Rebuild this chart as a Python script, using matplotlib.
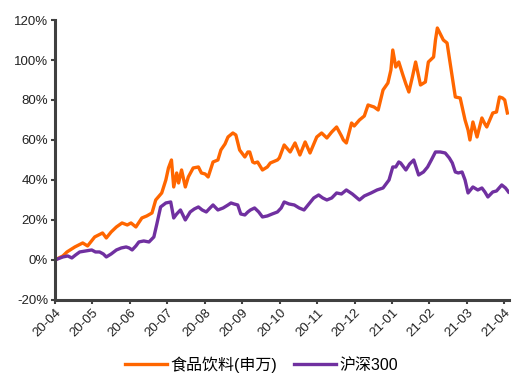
import matplotlib.pyplot as plt

plt.rcParams['font.family'] = ['Liberation Sans', 'Noto Sans CJK SC', 'DejaVu Sans']

# month ticks along the x axis (equal spacing, one per month)
month_labels = ['20-04', '20-05', '20-06', '20-07', '20-08', '20-09', '20-10',
                '20-11', '20-12', '21-01', '21-02', '21-03', '21-04']

# cumulative return (%), x in months since 2020-04
food_x = [0.00, 0.21, 0.32, 0.53, 0.74, 0.87, 1.06, 1.27, 1.37, 1.50, 1.64, 1.79,
          1.93, 2.03, 2.16, 2.32, 2.45, 2.59, 2.69, 2.85, 2.96, 3.03, 3.11, 3.17,
          3.25, 3.30, 3.38, 3.48, 3.56, 3.69, 3.83, 3.91, 4.01, 4.09, 4.22, 4.35,
          4.43, 4.54, 4.62, 4.75, 4.83, 4.93, 5.07, 5.15, 5.20, 5.28, 5.33, 5.41,
          5.54, 5.67, 5.75, 5.94, 5.99, 6.12, 6.28, 6.41, 6.54, 6.68, 6.81, 6.99,
          7.12, 7.26, 7.39, 7.52, 7.65, 7.70, 7.78, 7.92, 7.99, 8.13, 8.26, 8.36,
          8.52, 8.63, 8.76, 8.89, 8.97, 9.02, 9.10, 9.18, 9.29, 9.37, 9.45, 9.55,
          9.63, 9.76, 9.89, 9.97, 10.11, 10.16, 10.21, 10.29, 10.37, 10.47, 10.58,
          10.69, 10.82, 10.95, 11.03, 11.08, 11.16, 11.27, 11.40, 11.48, 11.53,
          11.61, 11.69, 11.79, 11.87, 11.95, 12.01, 12.08]
food = [0, 2, 4, 6.5, 8.5, 7, 11.5, 13.5, 11, 14, 16.5, 18.5,
        17.5, 18.5, 16.5, 21, 22, 23.5, 30, 33.5, 40, 46, 50, 36.5,
        43.5, 38.5, 45, 36.5, 41.5, 46, 46.5, 43.5, 43, 41.5, 49, 50,
        55, 58, 61.5, 63.5, 62.5, 55, 51.5, 54, 54, 49, 48.5, 49,
        45, 46.5, 48.5, 50, 51, 57.5, 54, 58.5, 52.5, 59, 53.5, 61.5,
        63.5, 61, 64, 66.5, 62, 60, 58.5, 68.5, 67, 70, 72, 77.5,
        76.5, 75, 85, 88.5, 95, 105, 96.5, 99, 92.5, 88, 84, 92,
        99, 87.5, 89, 99, 101.5, 110, 116, 113, 110, 108.5, 95,
        81.5, 81, 70, 65, 60, 69, 61.5, 71, 68, 66.5,
        70, 73.5, 74, 81.5, 81, 80, 73.5]

hs300_x = [0.00, 0.21, 0.34, 0.45, 0.55, 0.66, 0.82, 0.98, 1.08, 1.19, 1.29, 1.37,
           1.50, 1.64, 1.77, 1.90, 1.98, 2.06, 2.16, 2.24, 2.37, 2.51, 2.64, 2.72,
           2.82, 2.96, 3.09, 3.17, 3.25, 3.35, 3.48, 3.61, 3.72, 3.83, 3.93, 4.04,
           4.14, 4.22, 4.35, 4.49, 4.62, 4.70, 4.78, 4.88, 4.96, 5.07, 5.15, 5.22,
           5.33, 5.44, 5.54, 5.67, 5.80, 5.94, 6.04, 6.12, 6.25, 6.39, 6.52, 6.65,
           6.78, 6.91, 7.04, 7.15, 7.26, 7.39, 7.52, 7.65, 7.78, 7.94, 8.13, 8.26,
           8.44, 8.60, 8.76, 8.84, 8.92, 9.02, 9.10, 9.18, 9.23, 9.37, 9.47, 9.58,
           9.71, 9.84, 9.95, 10.05, 10.16, 10.29, 10.42, 10.53, 10.61, 10.69,
           10.77, 10.87, 10.95, 11.03, 11.16, 11.29, 11.40, 11.48, 11.56, 11.69,
           11.79, 11.93, 12.03, 12.11]
hs300 = [0, 1.5, 2, 1, 2.5, 4, 4.5, 5, 4, 4, 3, 1.5,
         3, 5, 6, 6.5, 6, 5, 7, 9, 9.5, 9, 11.5, 18,
         26.5, 28.5, 29, 21, 23, 25, 20, 24, 25.5, 26.5, 25, 24,
         26, 27.5, 25, 26, 27.5, 28.5, 28, 27.5, 23, 22.5, 24, 25,
         26, 24, 21.5, 22, 23, 24, 26, 29, 28, 27.5, 26, 25,
         28, 31, 32.5, 31, 30, 31, 33.5, 33, 35, 33, 30, 32,
         33.5, 35, 36, 38, 40, 46.5, 46.5, 49, 48.5, 45, 48, 50,
         42.5, 44, 46.5, 50, 54, 54, 53.5, 51, 48.5, 44,
         43.5, 44, 40, 33.5, 36.5, 35, 36, 34, 31.5, 34,
         34.5, 37.5, 36, 34]

fig = plt.figure(figsize=(5.14, 3.74), dpi=100)
ax = fig.add_axes([0.107, 0.198, 0.883, 0.7485])

ax.plot(food_x, food, color='#FF6600', lw=2.4, label='食品饮料(申万)')
ax.plot(hs300_x, hs300, color='#7030A0', lw=2.4, label='沪深300')

ax.set_xlim(0, 12.12)
ax.set_ylim(-20, 120)
ax.set_yticks(range(-20, 121, 20))
ax.set_yticklabels([f'{v}%' for v in range(-20, 121, 20)], fontsize=9.5)
ax.set_xticks(range(len(month_labels)))
ax.set_xticklabels(month_labels, rotation=45, ha='right', rotation_mode='anchor',
                   fontsize=9.5)

for side in ['top', 'right']:
    ax.spines[side].set_visible(False)
for side in ['left', 'bottom']:
    ax.spines[side].set_color('#404040')
    ax.spines[side].set_linewidth(2.2)
ax.tick_params(axis='both', colors='#404040', length=3, width=1.5,
               labelcolor='#222222', pad=2)

fig.legend(loc='center', bbox_to_anchor=(0.509, 0.025), ncol=2, frameon=False,
           fontsize=11.5, handlelength=2.6, columnspacing=1.1, handletextpad=0.2,
           borderpad=0)

fig.savefig('out.png', dpi=100)
